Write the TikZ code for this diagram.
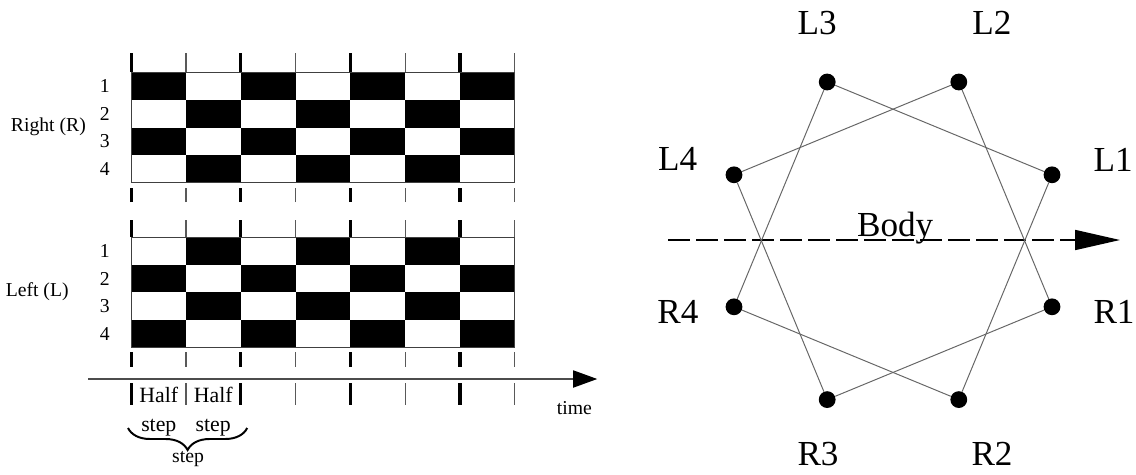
\documentclass[tikz,border=0pt]{standalone}
\usepackage{fontspec}
\setmainfont{Liberation Serif}
\usepackage{xcolor}
\usepackage{tikz}
\usetikzlibrary{arrows.meta, decorations.pathreplacing}

\tikzset{
	dick/.style={line width=2.4pt, color=black},
	duenn/.style={line width=0.8pt, color=black!65},
	rahmen/.style={line width=0.8pt, color=black!75},
	punkt/.style={circle, fill=black, inner sep=0pt, minimum size=0.42cm},
	bein/.style={line width=0.7pt, color=black!60},
	klein/.style={font=\fontsize{14}{20.5}\selectfont},
	halb/.style={font=\fontsize{15.5}{20.5}\selectfont, align=center},
	gross/.style={font=\fontsize{25}{30}\selectfont}
}

\begin{document}
\begin{tikzpicture}
	\useasboundingbox (0,0) rectangle (28.4,11.85);
	% Raster rechts (oben)
	\foreach \c in {0,...,6} {
		\foreach \r in {0,...,3} {
			\pgfmathtruncatemacro{\s}{mod(\c+\r,2)}
			\ifnum\s=0
				\fill[black] (3.28+1.37*\c,10.04-0.69*\r) rectangle ++(1.37,-0.69);
			\fi
		}
	}
	\draw[
		rahmen
	] (3.28,7.28) rectangle (12.87,10.04);
	% Raster links (unten)
	\foreach \c in {0,...,6} {
		\foreach \r in {0,...,3} {
			\pgfmathtruncatemacro{\s}{mod(\c+\r,2)}
			\ifnum\s=1
				\fill[black] (3.28+1.37*\c,5.92-0.69*\r) rectangle ++(1.37,-0.69);
			\fi
		}
	}
	\draw[
		rahmen
	] (3.28,3.16) rectangle (12.87,5.92);
	% Striche (ganze Schritte)
	\foreach \k in {0,2,4,6} {
		\draw[dick] (3.28+1.37*\k,10.05) -- (3.28+1.37*\k,10.52);
		\draw[dick] (3.28+1.37*\k,6.8) -- (3.28+1.37*\k,7.15);
		\draw[dick] (3.28+1.37*\k,5.93) -- (3.28+1.37*\k,6.35);
		\draw[dick] (3.28+1.37*\k,2.68) -- (3.28+1.37*\k,3.05);
		\draw[dick] (3.28+1.37*\k,1.73) -- (3.28+1.37*\k,2.28);
	}
	% Striche (halbe Schritte)
	\foreach \k in {1,3,5,7} {
		\draw[duenn] (3.28+1.37*\k,10.05) -- (3.28+1.37*\k,10.52);
		\draw[duenn] (3.28+1.37*\k,6.8) -- (3.28+1.37*\k,7.15);
		\draw[duenn] (3.28+1.37*\k,5.93) -- (3.28+1.37*\k,6.35);
		\draw[duenn] (3.28+1.37*\k,2.68) -- (3.28+1.37*\k,3.05);
		\draw[duenn] (3.28+1.37*\k,1.73) -- (3.28+1.37*\k,2.28);
	}
	% Beinnummern
	\foreach \r in {1,...,4} {
		\node[klein] (rnr\r) at (2.62,10.385-0.69*\r) {\r};
		\node[klein] (lnr\r) at (2.62,6.265-0.69*\r) {\r};
	}
	\node[klein] (rechts) at (1.21,8.67) {Right (R)};
	\node[klein] (links) at (0.93,4.55) {Left (L)};
	% Zeitachse
	\coordinate (tstart) at (2.2,2.375);
	\coordinate (tende) at (14.93,2.375);
	\draw[
		line width=0.8pt,
		color=black!70,
		-{Triangle[length=0.6cm, width=0.43cm, color=black]}
	] (tstart) -- (tende);
	\node[klein] (zeit) at (14.36,1.65) {time};
	\node[halb] (halb1) at (3.97,1.56) {Half\\step};
	\node[halb] (halb2) at (5.33,1.56) {Half\\step};
	% Klammer
	\coordinate (kl) at (3.2,1.15);
	\coordinate (kr) at (6.18,1.15);
	\draw[
		line width=1.4pt,
		decorate,
		decoration={brace, amplitude=0.55cm, mirror}
	] (kl) -- (kr);
	\node[klein] (schritt) at (4.7,0.38) {step};
	% Koerper
	\coordinate (kstart) at (16.7,5.85);
	\coordinate (kende) at (28.0,5.85);
	\draw[
		line width=1pt,
		dash pattern=on 0.55cm off 0.15cm,
		-{Triangle[length=1.12cm, width=0.5cm]}
	] (kstart) -- (kende);
	\node[gross, anchor=base] (body) at (22.38,5.93) {Body};
	% Beine
	\node[punkt] (L1) at (26.30,7.48) {};
	\node[punkt] (L2) at (23.97,9.80) {};
	\node[punkt] (L3) at (20.68,9.80) {};
	\node[punkt] (L4) at (18.35,7.48) {};
	\node[punkt] (R4) at (18.35,4.18) {};
	\node[punkt] (R3) at (20.68,1.86) {};
	\node[punkt] (R2) at (23.97,1.86) {};
	\node[punkt] (R1) at (26.30,4.18) {};
	% Verbindungen
	\draw[bein] (L1) -- (L3) -- (R4) -- (R2) -- (L1);
	\draw[bein] (L2) -- (L4) -- (R3) -- (R1) -- (L2);
	% Beschriftung
	\node[gross] (tL3) at (20.43,11.28) {L3};
	\node[gross] (tL2) at (24.80,11.28) {L2};
	\node[gross] (tL4) at (16.94,7.88) {L4};
	\node[gross] (tL1) at (27.83,7.85) {L1};
	\node[gross] (tR4) at (16.95,4.05) {R4};
	\node[gross] (tR1) at (27.85,4.05) {R1};
	\node[gross] (tR3) at (20.45,0.50) {R3};
	\node[gross] (tR2) at (24.80,0.50) {R2};
\end{tikzpicture}
\end{document}
